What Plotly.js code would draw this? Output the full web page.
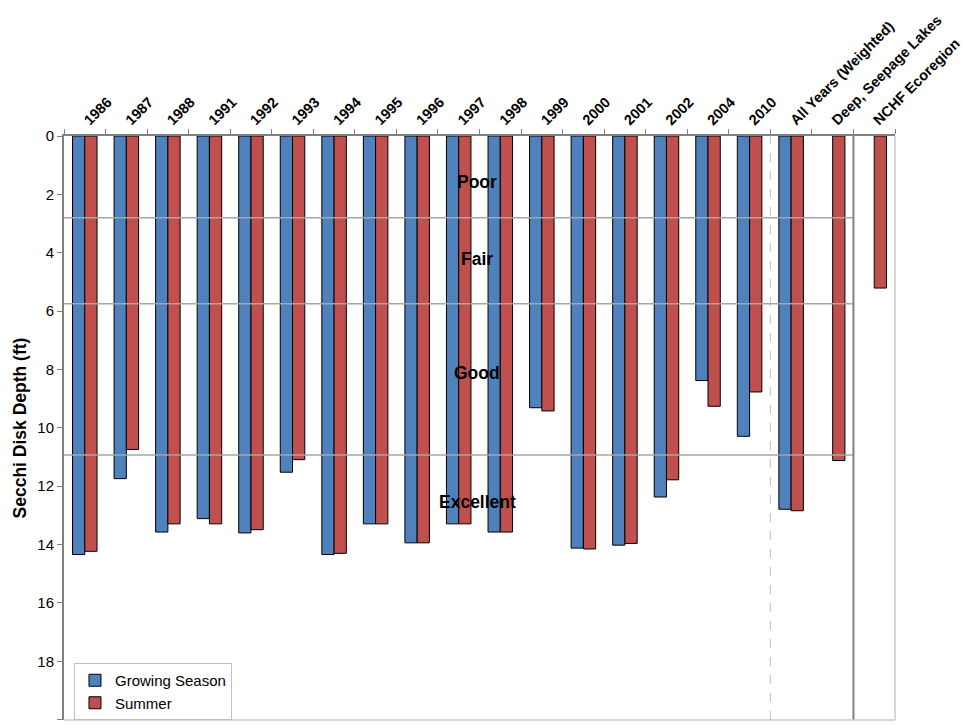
<!DOCTYPE html>
<html>
<head>
<meta charset="utf-8">
<script src="https://cdn.plot.ly/plotly-3.0.1.min.js"></script>
<style>html,body{margin:0;padding:0;background:#fff;}#chart{width:963px;height:725px;}</style>
</head>
<body>
<div id="chart"></div>
<script>
const categories = ["1986","1987","1988","1991","1992","1993","1994","1995","1996","1997","1998","1999","2000","2001","2002","2004","2010","All Years (Weighted)","Deep, Seepage Lakes","NCHF Ecoregion"];
const growingSeason = [14.34,11.74,13.57,13.11,13.60,11.52,14.34,13.29,13.94,13.29,13.57,9.31,14.12,14.02,12.37,8.38,10.29,12.79,null,null];
const summer = [14.23,10.74,13.29,13.29,13.49,11.09,14.30,13.29,13.94,13.29,13.57,9.42,14.15,13.96,11.78,9.26,8.77,12.84,11.12,5.21];
const classBreaks = [2.8,5.75,10.93];
const classLabels = ["Poor","Fair","Good","Excellent"];
const classLabelDepths = [1.56,4.23,8.13,12.55];

const font = "Liberation Sans, Arial, sans-serif";
const traces = [
  {type:"bar", name:"Growing Season", x:categories, y:growingSeason,
   marker:{color:"#4F81BD", line:{color:"#000000", width:1}}},
  {type:"bar", name:"Summer", x:categories, y:summer,
   marker:{color:"#C0504D", line:{color:"#000000", width:1}}}
];

const shapes = classBreaks.map(v => ({type:"line", xref:"x", yref:"y", x0:-0.5, x1:18.5, y0:v, y1:v,
  line:{color:"#A6A6A6", width:1.5}, layer:"above"}));
shapes.push({type:"line", xref:"x", yref:"paper", x0:16.5, x1:16.5, y0:0, y1:1, line:{color:"#BFBFBF", width:1, dash:"dash"}, layer:"below"});
shapes.push({type:"line", xref:"x", yref:"paper", x0:18.5, x1:18.5, y0:0, y1:1, line:{color:"#808080", width:2}, layer:"above"});
shapes.push({type:"line", xref:"paper", yref:"paper", x0:1, x1:1, y0:0, y1:1, line:{color:"#C8C8C8", width:1.5}});
shapes.push({type:"line", xref:"paper", yref:"paper", x0:0, x1:1, y0:0, y1:0, line:{color:"#C8C8C8", width:1.5}});

const annotations = classLabels.map((t,i) => ({text:"<b>"+t+"</b>", xref:"paper", yref:"y", x:0.497, y:classLabelDepths[i],
  showarrow:false, font:{family:font, size:17.5, color:"#000"}}));

const layout = {
  width:963, height:725,
  margin:{l:64, r:68, t:136, b:5},
  paper_bgcolor:"#fff", plot_bgcolor:"#fff",
  barmode:"group", bargap:0.41, bargroupgap:0,
  font:{family:font, color:"#000"},
  xaxis:{type:"category", side:"top", tickangle:-45, tickfont:{family:font, size:14.5, color:"#000", weight:"bold"},
    showline:true, linecolor:"#808080", linewidth:2, ticks:"outside", ticklen:5, tickcolor:"#808080", tickson:"boundaries",
    showgrid:false, zeroline:false, range:[-0.5,19.5], fixedrange:true},
  yaxis:{range:[20.01,0], tickvals:[0,2,4,6,8,10,12,14,16,18,20], ticks:"outside", ticklen:5, tickcolor:"#808080", showline:true, linecolor:"#808080", linewidth:2,
    showgrid:false, zeroline:false, tickfont:{family:font, size:15, color:"#000"},
    title:{text:"<b>Secchi Disk Depth (ft)</b>", font:{family:font, size:17.5, color:"#000"}, standoff:6}},
  legend:{x:0.012, y:0, xanchor:"left", yanchor:"bottom", bgcolor:"#fff", bordercolor:"#BFBFBF", borderwidth:1,
    font:{family:font, size:15, color:"#000"}, traceorder:"normal"},
  shapes:shapes, annotations:annotations, showlegend:true
};
Plotly.newPlot("chart", traces, layout, {displayModeBar:false, staticPlot:true});
</script>
</body>
</html>
